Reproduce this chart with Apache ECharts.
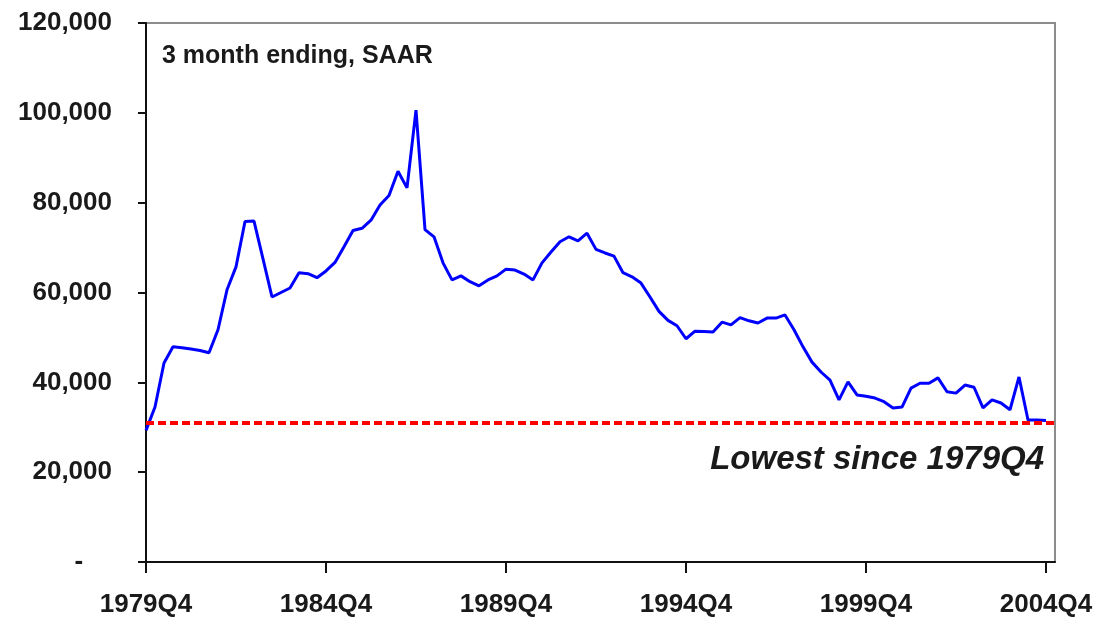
<!DOCTYPE html>
<html>
<head>
<meta charset="utf-8">
<script src="https://cdn.jsdelivr.net/npm/echarts@6/dist/echarts.min.js"></script>
<style>
  html, body { margin: 0; padding: 0; background: #fff; }
  #chart { width: 1108px; height: 618px; }
</style>
</head>
<body>
<div id="chart"></div>
<script>
// quarters 1979Q4 .. 2005Q1 (last one is only axis room, no value)
const startYear = 1979
const quarters = ['1979Q4']
for (let y = startYear + 1; y <= 2005; y++) {
  for (let q = 1; q <= 4; q++) {
    if (y === 2005 && q > 1) break
    quarters.push(y + 'Q' + q)
  }
}

// 3 month ending, SAAR
const values = [
  29300, 34500, 44300, 47900, 47700, 47400, 47100, 46600, 51700, 60600,
  65700, 75800, 75900, 67500, 59000, 60000, 61000, 64400, 64200, 63300,
  64800, 66700, 70200, 73800, 74300, 76100, 79500, 81600, 87000, 83300,
  100600, 74000, 72400, 66600, 62800, 63700, 62400, 61500, 62800, 63700,
  65200, 65000, 64100, 62800, 66600, 69000, 71300, 72400, 71500, 73200,
  69600, 68800, 68100, 64400, 63500, 62100, 59000, 55800, 53800, 52600,
  49700, 51400, 51300, 51200, 53400, 52800, 54400, 53700, 53200, 54300,
  54300, 55000, 51700, 47900, 44500, 42300, 40500, 36100, 40100, 37200,
  36900, 36500, 35700, 34300, 34500, 38700, 39800, 39800, 41000, 37900,
  37600, 39400, 38900, 34300, 36100, 35400, 33900, 41200, 31600, 31600,
  31500
]

const lowestLevel = 31000
const yTicks = [0, 20000, 40000, 60000, 80000, 100000, 120000]

const font = '"Liberation Sans", Arial, sans-serif'
const chart = echarts.init(document.getElementById('chart'))

chart.setOption({
  animation: false,
  grid: {
    left: 146, right: 53, top: 23, bottom: 56,
    show: true, borderColor: '#8c8c8c', borderWidth: 2, backgroundColor: '#fff'
  },
  xAxis: {
    type: 'category',
    data: quarters,
    boundaryGap: false,
    axisLine: { lineStyle: { color: '#111', width: 2 } },
    axisTick: { interval: 19, length: 11, lineStyle: { color: '#111', width: 2 } },
    axisLabel: {
      interval: 19, margin: 30,
      fontFamily: font, fontSize: 26, fontWeight: 'bold', color: '#1a1a1a'
    },
    splitLine: { show: false }
  },
  yAxis: {
    type: 'value',
    min: yTicks[0],
    max: yTicks[yTicks.length - 1],
    interval: 20000,
    axisLine: { show: true, lineStyle: { color: '#111', width: 2 } },
    axisTick: { show: true, length: 8, lineStyle: { color: '#111', width: 2 } },
    axisLabel: {
      margin: 34,
      fontFamily: font, fontSize: 26, fontWeight: 'bold', color: '#1a1a1a',
      formatter: v => v === 0 ? '-    ' : v.toLocaleString('en-US')
    },
    splitLine: { show: false }
  },
  series: [
    {
      name: 'SAAR',
      type: 'line',
      data: values,
      symbol: 'none',
      lineStyle: { color: '#0000ff', width: 3 },
      markLine: {
        silent: true,
        symbol: 'none',
        label: { show: false },
        lineStyle: { color: '#ff0000', width: 4, type: [8, 4], opacity: 1 },
        data: [{ yAxis: lowestLevel }]
      }
    }
  ],
  graphic: [
    {
      type: 'text', left: 162, top: 44,
      style: {
        text: '3 month ending, SAAR',
        font: 'bold 25px ' + font, fill: '#1a1a1a'
      }
    },
    {
      type: 'text', right: 64, top: 443,
      style: {
        text: 'Lowest since 1979Q4',
        font: 'italic bold 33px ' + font, fill: '#1a1a1a'
      }
    }
  ]
})
</script>
</body>
</html>
